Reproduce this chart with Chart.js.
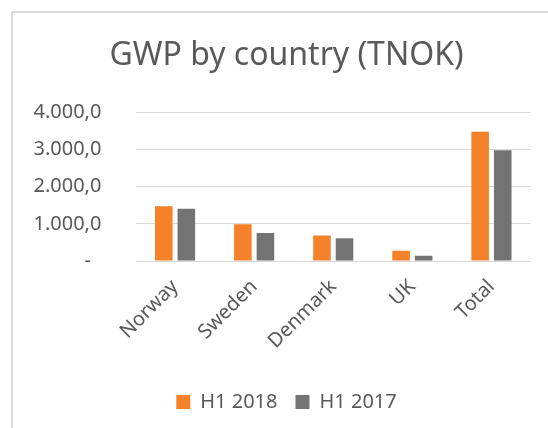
<!DOCTYPE html>
<html>
<head>
<meta charset="utf-8">
<script src="https://cdn.jsdelivr.net/npm/chart.js@4.4.1/dist/chart.umd.min.js"></script>
<style>
  html, body { margin: 0; padding: 0; background: #fff; overflow: hidden; }
  #frame { position: absolute; left: 11px; top: 11px; width: 600px; height: 500px;
           border-left: 2px solid #d9d9d9; border-top: 2px solid #d9d9d9; }
  #wrap { position: absolute; left: 0; top: 0; width: 548px; height: 428px; }
</style>
</head>
<body>
<div id="frame"></div>
<div id="wrap"><canvas id="gwpChart" width="548" height="428"></canvas></div>
<script>
// data
var countries = ["Norway", "Sweden", "Denmark", "UK", "Total"];
var h1_2018 = [1476, 987, 684, 276, 3476];
var h1_2017 = [1404, 756, 613, 142, 2978];
var yTicks = [0, 1000, 2000, 3000, 4000];

var textColor = "#595959";
var gridColor = "#d9d9d9";

// 4000 -> "4.000,0", 0 -> "-"
function fmtNok(v) {
	if (v === 0) return "-  ";
	var s = v.toFixed(1).split(".");
	var intPart = s[0].replace(/\B(?=(\d{3})+(?!\d))/g, ".");
	return intPart + "," + s[1];
}

var ctx = document.getElementById("gwpChart").getContext("2d");
var chart = new Chart(ctx, {
	type: "bar",
	data: {
		labels: countries,
		datasets: [
			{ label: "H1 2018", data: h1_2018, backgroundColor: "#F5822A" },
			{ label: "H1 2017", data: h1_2017, backgroundColor: "#737373" }
		]
	},
	options: {
		responsive: false,
		animation: false,
		devicePixelRatio: 1,
		categoryPercentage: 0.57,
		barPercentage: 0.78,
		layout: { padding: { left: 42, right: 17, top: 0, bottom: 6 } },
		plugins: {
			title: {
				display: true,
				text: "GWP by country (TNOK)",
				color: textColor,
				font: { family: "Noto Sans", size: 32, weight: "normal" },
				padding: { top: 37, bottom: 37 }
			},
			legend: {
				position: "bottom",
				labels: {
					color: textColor,
					font: { family: "Noto Sans", size: 20 },
					boxWidth: 14,
					boxHeight: 14,
					padding: 18
				}
			},
			tooltip: { enabled: false }
		},
		scales: {
			x: {
				grid: { display: false },
				border: { display: false },
				ticks: {
					color: textColor,
					font: { family: "Noto Sans", size: 20 },
					minRotation: 45,
					maxRotation: 45,
					padding: 6
				},
				afterFit: function(scale) { scale.height = 113; }
			},
			y: {
				min: 0,
				max: 4000,
				afterBuildTicks: function(scale) {
					scale.ticks = yTicks.map(function(v) { return { value: v }; });
				},
				grid: { color: gridColor, lineWidth: 1, drawTicks: false },
				border: { display: false },
				ticks: {
					color: textColor,
					font: { family: "Noto Sans", size: 20 },
					// mirrored + far-aligned so the labels sit right-aligned left of the plot without clipping
					mirror: true,
					crossAlign: "far",
					padding: -102,
					callback: function(v) { return fmtNok(v); }
				},
				afterFit: function(scale) { scale.width = 93.5; }
			}
		}
	}
});
</script>
</body>
</html>
